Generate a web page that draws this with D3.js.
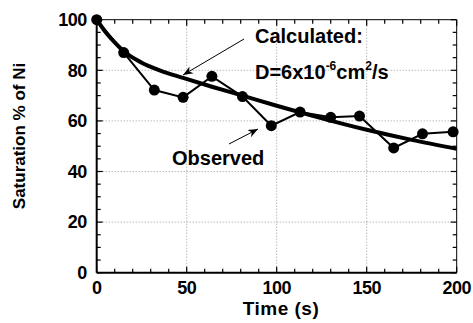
<!DOCTYPE html>
<html>
<head>
<meta charset="utf-8">
<script src="https://cdn.jsdelivr.net/npm/d3@7"></script>
<style>
  body { margin: 0; background: #fff; }
  svg { display: block; font-family: "Liberation Sans", Arial, sans-serif; font-weight: bold; }
</style>
</head>
<body>
<svg id="chart" width="473" height="323"></svg>
<script>
// observed points (time s, saturation %)
const obsTime = [0, 15, 32, 48, 64, 81, 97, 113, 130, 146, 165, 181, 198];
const obsSat  = [100, 87, 72.2, 69.3, 77.6, 69.6, 58.1, 63.5, 61.4, 61.9, 49.3, 54.9, 55.7];

// calculated curve
const calcTime = [0, 5, 10, 15, 25, 35, 48, 64, 81, 100, 120, 150, 175, 200];
const calcSat  = [100, 95, 91, 87.5, 83, 80, 77, 73.5, 70, 66, 62, 56.5, 52.5, 49];

const xTicks = [0, 50, 100, 150, 200];
const yTicks = [0, 20, 40, 60, 80, 100];

const width = 473, height = 323;
const margin = { top: 19.7, right: 16.3, bottom: 50.3, left: 96.7 };
const iw = width - margin.left - margin.right;
const ih = height - margin.top - margin.bottom;

const svg = d3.select('#chart');
const g = svg.append('g').attr('transform', `translate(${margin.left},${margin.top})`);

const x = d3.scaleLinear().domain([0, 200]).range([0, iw]);
const y = d3.scaleLinear().domain([0, 100]).range([ih, 0]);

// dotted grid
g.append('g').selectAll('line').data(xTicks.slice(1, -1)).enter().append('line')
  .attr('x1', d => x(d)).attr('x2', d => x(d)).attr('y1', 0).attr('y2', ih)
  .attr('stroke', '#999').attr('stroke-width', 1).attr('stroke-dasharray', '1,2');
g.append('g').selectAll('line').data(yTicks.slice(1, -1)).enter().append('line')
  .attr('y1', d => y(d)).attr('y2', d => y(d)).attr('x1', 0).attr('x2', iw)
  .attr('stroke', '#999').attr('stroke-width', 1).attr('stroke-dasharray', '1,2');

// inward ticks on all four sides
const xMinor = d3.range(0, 201, 10);
const yMinor = d3.range(0, 101, 5);
const tick = (major) => major ? 6 : 4;

const ticks = g.append('g').attr('stroke', '#000').attr('stroke-width', 1.2);
xMinor.forEach(v => {
  const L = tick(v % 50 === 0);
  ticks.append('line').attr('x1', x(v)).attr('x2', x(v)).attr('y1', ih).attr('y2', ih - L);
  ticks.append('line').attr('x1', x(v)).attr('x2', x(v)).attr('y1', 0).attr('y2', L);
});
yMinor.forEach(v => {
  const L = tick(v % 20 === 0);
  ticks.append('line').attr('y1', y(v)).attr('y2', y(v)).attr('x1', 0).attr('x2', L);
  ticks.append('line').attr('y1', y(v)).attr('y2', y(v)).attr('x1', iw).attr('x2', iw - L);
});

// frame
g.append('line').attr('x1', 0).attr('x2', iw).attr('y1', 0).attr('y2', 0).attr('stroke', '#000').attr('stroke-width', 1);
g.append('line').attr('x1', iw).attr('x2', iw).attr('y1', 0).attr('y2', ih).attr('stroke', '#000').attr('stroke-width', 1);
g.append('line').attr('x1', 0).attr('x2', 0).attr('y1', 0).attr('y2', ih).attr('stroke', '#000').attr('stroke-width', 2);
g.append('line').attr('x1', 0).attr('x2', iw).attr('y1', ih).attr('y2', ih).attr('stroke', '#000').attr('stroke-width', 2);

// tick labels
g.append('g').selectAll('text').data(xTicks).enter().append('text')
  .attr('x', d => x(d)).attr('y', ih + 21)
  .attr('text-anchor', 'middle').style('font-size', '18px').style('letter-spacing', '-0.5px')
  .text(d => d);
g.append('g').selectAll('text').data(yTicks).enter().append('text')
  .attr('x', -10).attr('y', d => y(d)).attr('dy', '0.35em')
  .attr('text-anchor', 'end').style('font-size', '18px').style('letter-spacing', '-0.5px')
  .text(d => d);

// axis titles
svg.append('text').attr('x', 281).attr('y', 315)
  .attr('text-anchor', 'middle').style('font-size', '19px').style('letter-spacing', '0.5px').text('Time (s)');
svg.append('text').attr('transform', 'translate(25,136) rotate(-90)')
  .attr('text-anchor', 'middle').style('font-size', '17px').text('Saturation % of Ni');

// calculated curve
const calc = calcTime.map((t, i) => [t, calcSat[i]]);
g.append('path').datum(calc)
  .attr('d', d3.line().x(d => x(d[0])).y(d => y(d[1])).curve(d3.curveMonotoneX))
  .attr('fill', 'none').attr('stroke', '#000').attr('stroke-width', 4);

// observed
const obs = obsTime.map((t, i) => [t, obsSat[i]]);
g.append('path').datum(obs)
  .attr('d', d3.line().x(d => x(d[0])).y(d => y(d[1])))
  .attr('fill', 'none').attr('stroke', '#000').attr('stroke-width', 2);
g.append('g').selectAll('circle').data(obs).enter().append('circle')
  .attr('cx', d => x(d[0])).attr('cy', d => y(d[1])).attr('r', 5.5).attr('fill', '#000');

// annotations
svg.append('defs').append('marker').attr('id', 'ah').attr('viewBox', '0 0 10 10')
  .attr('refX', 10).attr('refY', 5).attr('markerWidth', 10).attr('markerHeight', 10)
  .attr('markerUnits', 'userSpaceOnUse').attr('orient', 'auto')
  .append('path').attr('d', 'M0,1 L10,5 L0,9 L3,5 Z').attr('fill', '#000');

svg.append('line').attr('x1', 244).attr('y1', 39).attr('x2', 183).attr('y2', 75)
  .attr('stroke', '#000').attr('stroke-width', 1).attr('marker-end', 'url(#ah)');
svg.append('line').attr('x1', 229).attr('y1', 144).attr('x2', 258).attr('y2', 129)
  .attr('stroke', '#000').attr('stroke-width', 1).attr('marker-end', 'url(#ah)');

svg.append('text').attr('x', 255).attr('y', 43).style('font-size', '20px')
  .text('Calculated:');
const dt = svg.append('text').attr('x', 255).attr('y', 79).style('font-size', '20px');
dt.append('tspan').text('D=6x10');
dt.append('tspan').attr('dy', -9).style('font-size', '12px').text('-6');
dt.append('tspan').attr('dy', 9).text('cm');
dt.append('tspan').attr('dy', -9).style('font-size', '12px').text('2');
dt.append('tspan').attr('dy', 9).text('/s');

svg.append('text').attr('x', 172).attr('y', 165).style('font-size', '20px')
  .text('Observed');
</script>
</body>
</html>
